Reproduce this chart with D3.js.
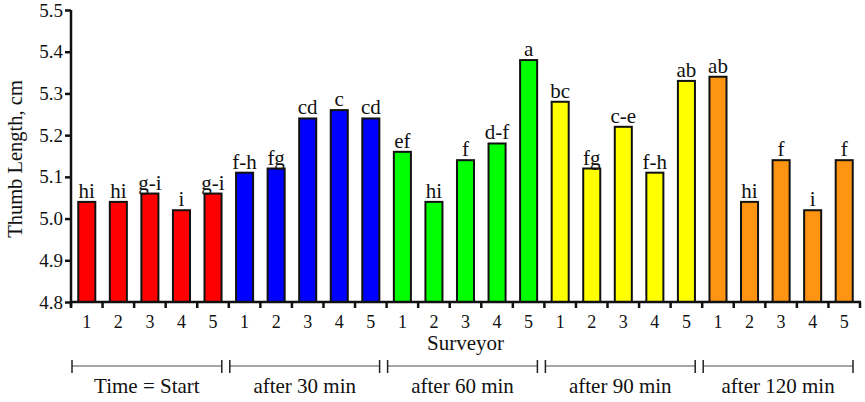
<!DOCTYPE html>
<html><head><meta charset="utf-8">
<script src="https://cdn.jsdelivr.net/npm/d3@7"></script>
<style>body{margin:0;background:#fff}svg{display:block}text{font-family:"Liberation Serif","Times New Roman",serif;fill:#111}</style>
</head><body><svg id="c" width="865" height="402"></svg>
<script>
const groups = ["Time = Start","after 30 min","after 60 min","after 90 min","after 120 min"];
const surveyors = ["1","2","3","4","5"];
const groupColors = ["#ff0000","#0000ff","#00ff00","#ffff00","#ff9412"];
const values = [
  [5.04,5.04,5.06,5.02,5.06],
  [5.11,5.12,5.24,5.26,5.24],
  [5.16,5.04,5.14,5.18,5.38],
  [5.28,5.12,5.22,5.11,5.33],
  [5.34,5.04,5.14,5.02,5.14]
];
const letters = [
  ["hi","hi","g-i","i","g-i"],
  ["f-h","fg","cd","c","cd"],
  ["ef","hi","f","d-f","a"],
  ["bc","fg","c-e","f-h","ab"],
  ["ab","hi","f","i","f"]
];
const yTicks = [4.8,4.9,5.0,5.1,5.2,5.3,5.4,5.5];

const data = [];
groups.forEach((g,gi)=>surveyors.forEach((s,si)=>data.push({g:gi,s,key:gi+"-"+s,v:values[gi][si],l:letters[gi][si]})));

const svg = d3.select("#c");
const L=71,R=860,T=10,B=302;
const x = d3.scaleBand().domain(data.map(d=>d.key)).range([L,R]).paddingInner(0.46).paddingOuter(0.23);
const bw = (R-L)/data.length;
const y = d3.scaleLinear().domain([4.8,5.5]).range([B,T]);

// bars
svg.append("g").selectAll("rect").data(data).join("rect")
  .attr("x",d=>x(d.key)).attr("width",x.bandwidth())
  .attr("y",d=>y(d.v)).attr("height",d=>B-y(d.v))
  .attr("fill",d=>groupColors[d.g]).attr("stroke","#111").attr("stroke-width",2);

// letters
svg.append("g").selectAll("text").data(data).join("text")
  .attr("x",d=>x(d.key)+x.bandwidth()/2).attr("y",d=>y(d.v)-4)
  .attr("text-anchor","middle").attr("font-size",21).text(d=>d.l);

// y axis
const ya = svg.append("g").attr("transform",`translate(${L},0)`)
  .call(d3.axisLeft(y).tickValues(yTicks).tickFormat(d3.format(".1f")).tickSize(6).tickPadding(2));
ya.select(".domain").attr("stroke","#111").attr("stroke-width",2.5).attr("d",`M0,${T}V${B+5}`);
ya.selectAll(".tick line").attr("stroke","#111").attr("stroke-width",2.5);
ya.selectAll(".tick text").attr("font-size",19).attr("font-family","Liberation Serif").attr("fill","#222");

// x axis
const xa = svg.append("g").attr("transform",`translate(0,${B})`)
  .call(d3.axisBottom(x).tickFormat(k=>k.split("-")[1]).tickSize(0).tickPadding(13));
xa.select(".domain").attr("stroke","#111").attr("stroke-width",2.5).attr("d",`M${L},0H${R+1}`);
xa.selectAll(".tick text").attr("font-size",18).attr("font-family","Liberation Serif").attr("fill","#333");
// boundary ticks
const bounds = d3.range(data.length+1).map(i=>L+i*bw);
xa.append("g").selectAll("line").data(bounds).join("line")
  .attr("x1",d=>d).attr("x2",d=>d).attr("y1",0).attr("y2",6)
  .attr("stroke","#111").attr("stroke-width",2.5);

svg.append("text").attr("x",(L+R)/2).attr("y",350).attr("text-anchor","middle").attr("font-size",21).text("Surveyor");

// group brackets
const gb = svg.append("g");
groups.forEach((g,gi)=>{
  const x0 = L+gi*5*bw+1, x1 = L+(gi+1)*5*bw-7;
  gb.append("line").attr("x1",x0).attr("x2",x1).attr("y1",366).attr("y2",366).attr("stroke","#888").attr("stroke-width",1.5);
  [x0,x1].forEach(xx=>gb.append("line").attr("x1",xx).attr("x2",xx).attr("y1",360).attr("y2",373).attr("stroke","#222").attr("stroke-width",1.5));
  gb.append("text").attr("x",(x0+x1)/2).attr("y",393).attr("text-anchor","middle").attr("font-size",21).text(g);
});

// y title
svg.append("text").attr("transform",`translate(22,${(T+B)/2+3}) rotate(-90)`).attr("text-anchor","middle").attr("font-size",20.5).text("Thumb Length, cm");
</script></body></html>
